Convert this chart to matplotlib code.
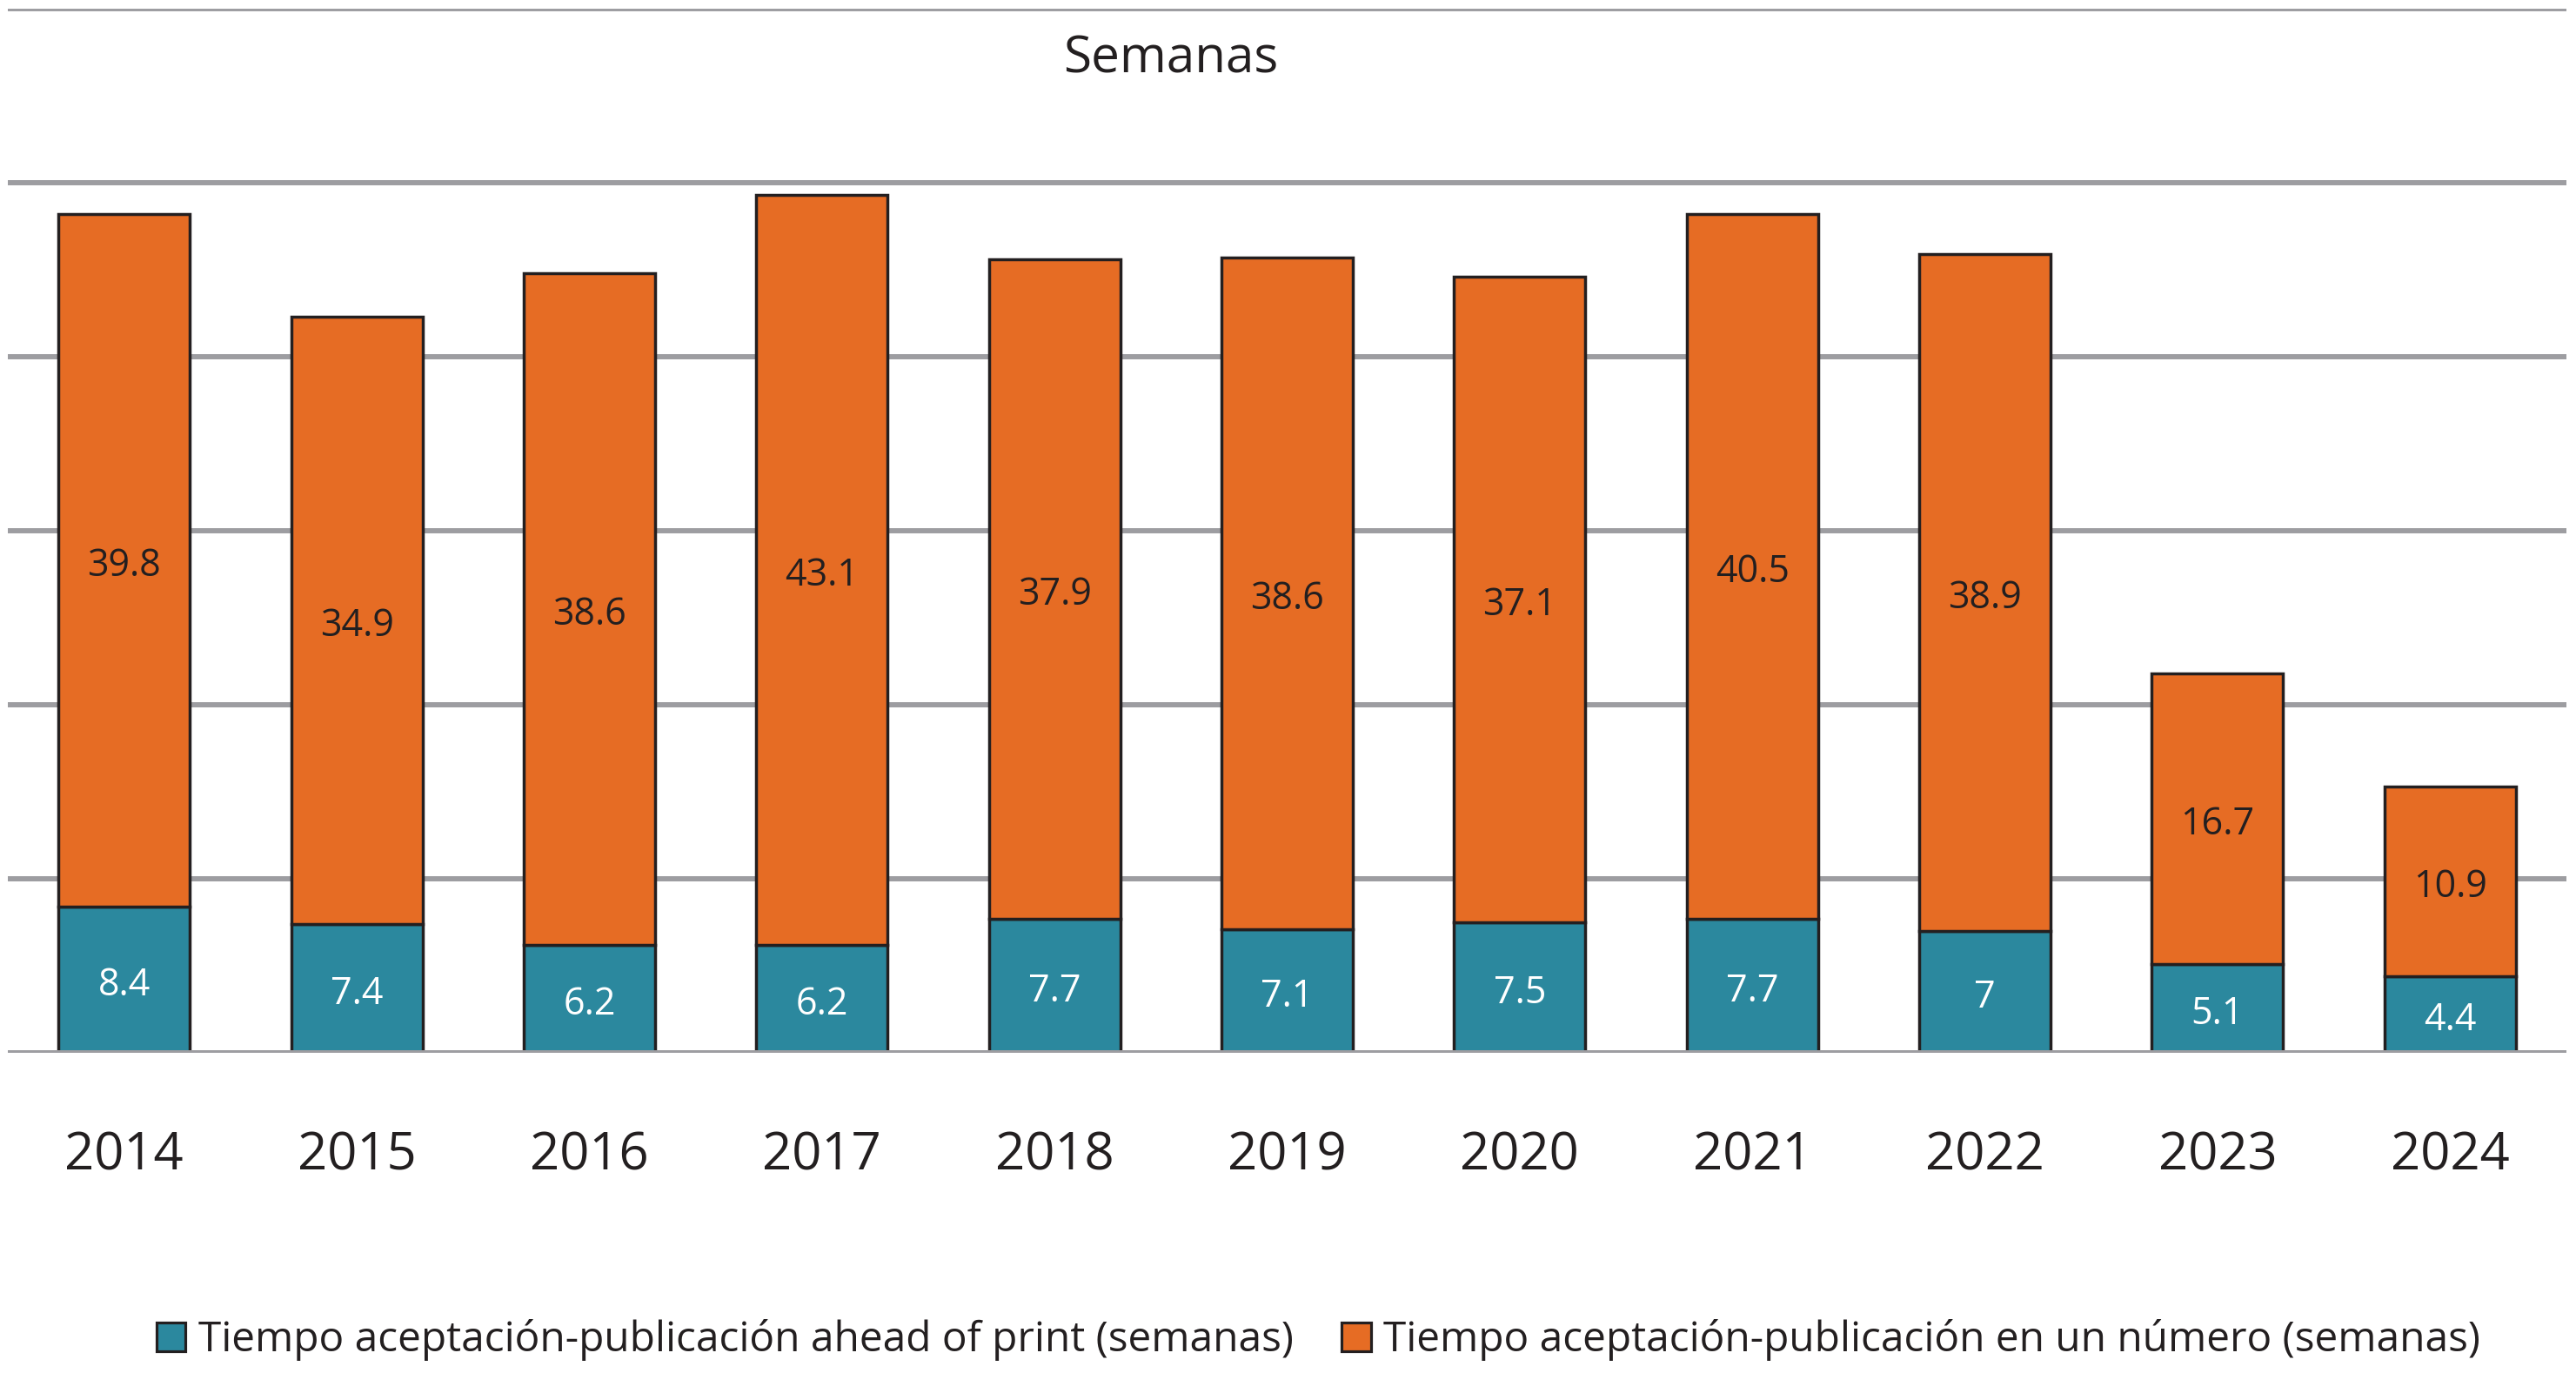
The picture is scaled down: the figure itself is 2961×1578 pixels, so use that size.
import matplotlib
matplotlib.use("Agg")
import matplotlib.pyplot as plt
from matplotlib.patches import Patch

years = ["2014", "2015", "2016", "2017", "2018", "2019", "2020", "2021", "2022", "2023", "2024"]
ahead_of_print = [8.4, 7.4, 6.2, 6.2, 7.7, 7.1, 7.5, 7.7, 7, 5.1, 4.4]
en_numero = [39.8, 34.9, 38.6, 43.1, 37.9, 38.6, 37.1, 40.5, 38.9, 16.7, 10.9]
legend_labels = ["Tiempo aceptación-publicación ahead of print (semanas)",
                 "Tiempo aceptación-publicación en un número (semanas)"]

teal = "#2b889e"
orange = "#e66c24"
edge = "#231f20"
grid_c = "#9d9da1"

plt.rcParams['font.family'] = ['Open Sans', 'DejaVu Sans']

fig = plt.figure(figsize=(29.61, 15.78), dpi=100)
ax = fig.add_axes([9/2961, 1 - 1210/1578, 2941/2961, (1210 - 10)/1578])

x = list(range(len(years)))
w = 0.565
ax.bar(x, ahead_of_print, width=w, color=teal, edgecolor=edge, linewidth=2.5, zorder=3)
ax.bar(x, en_numero, width=w, bottom=ahead_of_print, color=orange, edgecolor=edge,
       linewidth=2.5, zorder=3)
ax.axhline(0, color=grid_c, linewidth=4.3, zorder=5)

for i in x:
    a = ahead_of_print[i]
    n = en_numero[i]
    ax.annotate(f"{a:g}", (i, a / 2), xytext=(0, -5), textcoords='offset points',
                ha='center', va='center', color='white', fontsize=31, zorder=4)
    ax.annotate(f"{n:g}", (i, a + n / 2), xytext=(0, -5), textcoords='offset points',
                ha='center', va='center', color='#231f20', fontsize=31, zorder=4)

ax.set_xlim(-0.5, len(years) - 0.5)
ax.set_ylim(0, 60)
ax.set_yticks(range(0, 61, 10))
ax.yaxis.grid(True, color=grid_c, linewidth=4.3, zorder=0)
ax.set_axisbelow(True)
ax.tick_params(axis='y', left=False, labelleft=False)
ax.set_xticks(x)
ax.set_xticklabels(years, fontsize=43, color='#231f20')
ax.tick_params(axis='x', bottom=False, pad=60)
for s in ax.spines.values():
    s.set_visible(False)

ax.text(4.5, 56.35, "Semanas", ha='center', va='baseline', fontsize=42, color='#231f20')

handles = [Patch(facecolor=teal, edgecolor=edge, linewidth=2.3),
           Patch(facecolor=orange, edgecolor=edge, linewidth=2.3)]
fig.legend(handles, legend_labels, loc='center', bbox_to_anchor=(0.5118, 1 - 1540/1578),
           ncol=2, frameon=False, fontsize=34.4, handlelength=0.7, handleheight=0.7,
           handletextpad=0.3, columnspacing=1.17, labelcolor='#231f20')

fig.savefig("out.png", dpi=100, facecolor='white')
